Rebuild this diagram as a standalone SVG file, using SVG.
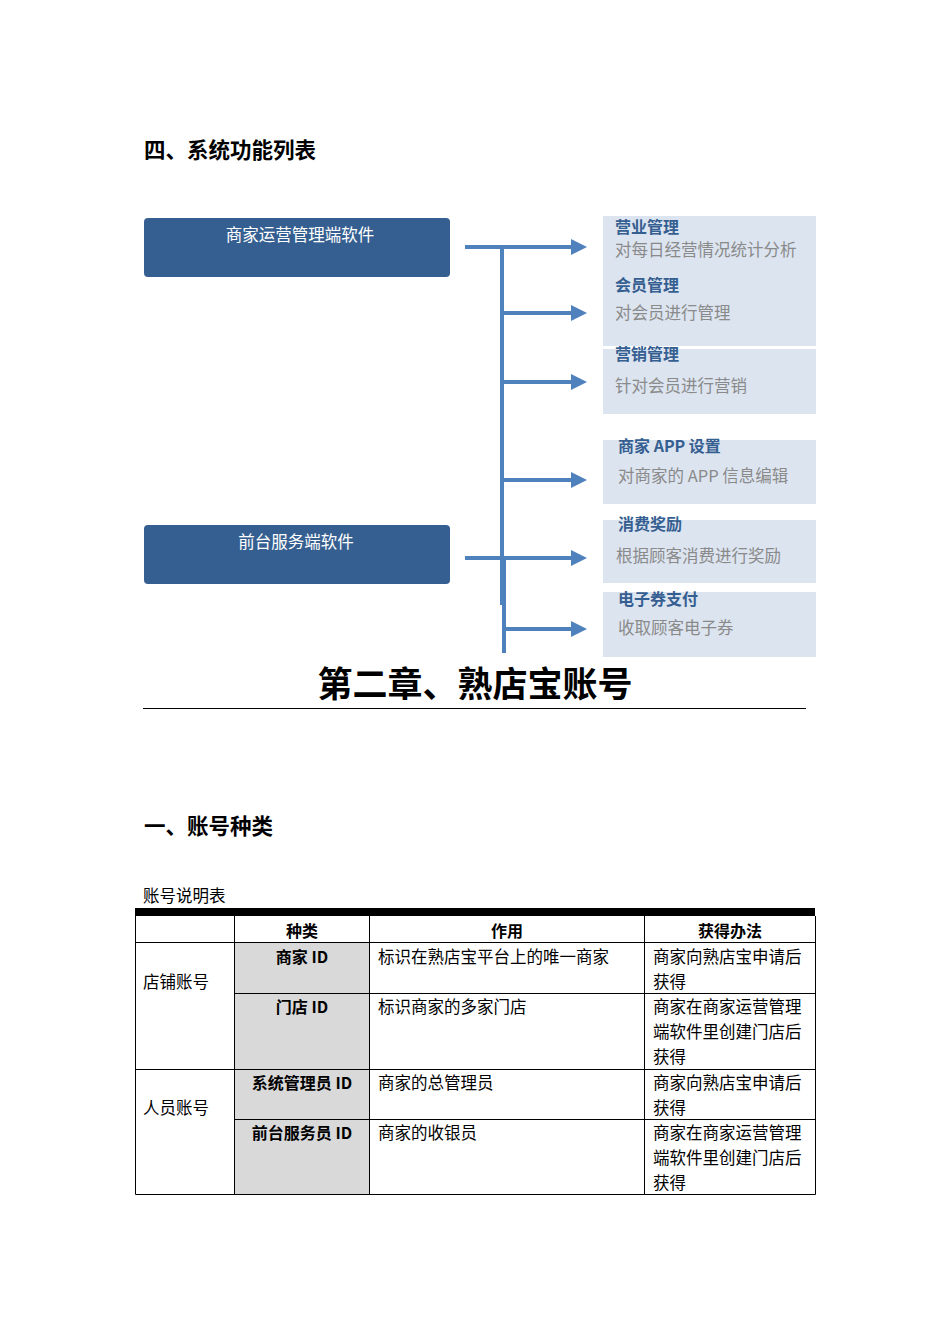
<svg xmlns="http://www.w3.org/2000/svg" width="950" height="1344" viewBox="0 0 950 1344">
<style>
text{font-family:"Noto Sans CJK SC","Noto Sans",sans-serif;}
.h{font-size:21.5px;font-weight:bold;fill:#000}
.sw{fill:#365f91}
.wt{font-size:16.5px;fill:#fff}
.lb{fill:#dce4f0}
.bt{font-size:16px;font-weight:bold;fill:#365f91}
.gt{font-size:16.5px;fill:#8a8a8a}
.ln{stroke:#4f81bd;stroke-width:4;fill:none}
.t{font-size:16.5px;fill:#000}
.tb{font-size:16px;font-weight:bold;fill:#000}
.g{stroke:#000;stroke-width:1;fill:none}
</style>
<defs><marker id="ar" markerWidth="4" markerHeight="4" refX="3" refY="2" orient="auto" markerUnits="strokeWidth"><path d="M0,0L4,2L0,4z" fill="#4f81bd"/></marker></defs>
<rect width="950" height="1344" fill="#fff"/>
<text class="h" x="144" y="158">四、系统功能列表</text>
<g id="n1"><rect class="sw" x="144" y="218" width="306" height="59" rx="4"/><text class="wt" x="300" y="241" text-anchor="middle">商家运营管理端软件</text></g>
<g id="n2"><rect class="sw" x="144" y="525" width="306" height="59" rx="4"/><text class="wt" x="296" y="548" text-anchor="middle">前台服务端软件</text></g>
<g id="b1"><rect class="lb" x="603" y="216" width="213" height="130"/><text class="bt" x="615" y="233">营业管理</text><text class="gt" x="615" y="256">对每日经营情况统计分析</text><text class="bt" x="615" y="291">会员管理</text><text class="gt" x="615" y="319">对会员进行管理</text></g>
<g id="b2"><rect class="lb" x="603" y="349" width="213" height="65"/><text class="bt" x="615" y="360">营销管理</text><text class="gt" x="615" y="392">针对会员进行营销</text></g>
<g id="b3"><rect class="lb" x="603" y="440" width="213" height="64"/><text class="bt" x="618" y="452">商家 APP 设置</text><text class="gt" x="618" y="482">对商家的 APP 信息编辑</text></g>
<g id="b4"><rect class="lb" x="603" y="520" width="213" height="63"/><text class="bt" x="618" y="530">消费奖励</text><text class="gt" x="616" y="562">根据顾客消费进行奖励</text></g>
<g id="b5"><rect class="lb" x="603" y="592" width="213" height="65"/><text class="bt" x="618" y="605">电子券支付</text><text class="gt" x="618" y="634">收取顾客电子券</text></g>
<g id="connectors">
<path class="ln" d="M502,247V605"/><path class="ln" d="M504,558V653"/>
<path class="ln" marker-end="url(#ar)" d="M465,247H583"/>
<path class="ln" marker-end="url(#ar)" d="M502,313H583"/>
<path class="ln" marker-end="url(#ar)" d="M502,382H583"/>
<path class="ln" marker-end="url(#ar)" d="M502,480H583"/>
<path class="ln" marker-end="url(#ar)" d="M465,558H583"/>
<path class="ln" marker-end="url(#ar)" d="M504,629H583"/>
</g>
<text x="475" y="697" text-anchor="middle" style="font-size:35px;font-weight:bold">第二章、熟店宝账号</text>
<line x1="143" y1="708.5" x2="806" y2="708.5" stroke="#000"/>
<text class="h" x="144" y="834">一、账号种类</text>
<text class="t" x="143" y="902">账号说明表</text>
<g id="table">
<rect x="234" y="942" width="135" height="252" fill="#d9d9d9"/>
<rect x="135" y="908" width="680" height="8" fill="#000"/>
<path class="g" d="M135.5,916V1194.5H815.5V916M234.5,916V1194M369.5,916V1194M644.5,916V1194M135,942.5H815M234,993.5H815M135,1069.5H815M234,1119.5H815"/>
<text class="tb" x="302" y="937" text-anchor="middle">种类</text>
<text class="tb" x="507" y="937" text-anchor="middle">作用</text>
<text class="tb" x="730" y="937" text-anchor="middle">获得办法</text>
<text class="t" x="143" y="988">店铺账号</text>
<text class="t" x="143" y="1114">人员账号</text>
<text class="tb" x="302" y="963" text-anchor="middle">商家 ID</text>
<text class="tb" x="302" y="1013" text-anchor="middle">门店 ID</text>
<text class="tb" x="302" y="1089" text-anchor="middle">系统管理员 ID</text>
<text class="tb" x="302" y="1139" text-anchor="middle">前台服务员 ID</text>
<text class="t" x="378" y="963">标识在熟店宝平台上的唯一商家</text>
<text class="t" x="378" y="1013">标识商家的多家门店</text>
<text class="t" x="378" y="1089">商家的总管理员</text>
<text class="t" x="378" y="1139">商家的收银员</text>
<text class="t" x="653" y="963">商家向熟店宝申请后</text><text class="t" x="653" y="988">获得</text>
<text class="t" x="653" y="1013">商家在商家运营管理</text><text class="t" x="653" y="1038">端软件里创建门店后</text><text class="t" x="653" y="1063">获得</text>
<text class="t" x="653" y="1089">商家向熟店宝申请后</text><text class="t" x="653" y="1114">获得</text>
<text class="t" x="653" y="1139">商家在商家运营管理</text><text class="t" x="653" y="1164">端软件里创建门店后</text><text class="t" x="653" y="1189">获得</text>
</g>
</svg>
